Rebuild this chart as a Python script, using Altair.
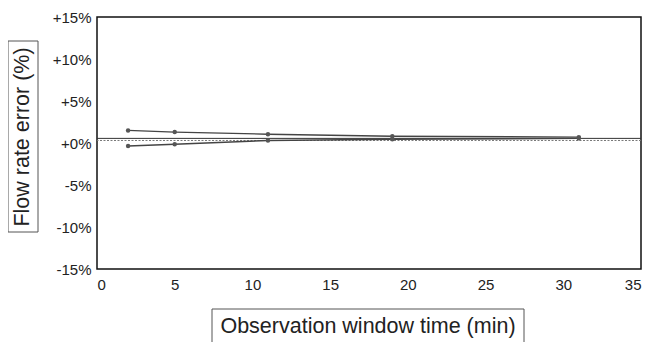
import altair as alt
import pandas as pd

window_min = [2, 5, 11, 19, 31]
upper_err = [1.5, 1.3, 1.05, 0.8, 0.7]
lower_err = [-0.35, -0.15, 0.3, 0.45, 0.55]
ref_solid = [0.55]
ref_dotted = [0.3]
x_ticks = [0, 5, 10, 15, 20, 25, 30, 35]
y_ticks = [-15, -10, -5, 0, 5, 10, 15]

rows = []
for s, vals in (("upper", upper_err), ("lower", lower_err)):
    for t, v in zip(window_min, vals):
        rows.append({"t": t, "err": v, "series": s})
df = pd.DataFrame(rows)

W, H = 544, 252
FONT = "Liberation Sans"

xs = alt.X("t:Q", scale=alt.Scale(domain=[0, 35], nice=False),
           axis=alt.Axis(values=x_ticks, title=None, labelPadding=8))
ys = alt.Y("err:Q", scale=alt.Scale(domain=[-15, 15], nice=False),
           axis=alt.Axis(values=y_ticks, title=None, labelPadding=6,
                         labelExpr="datum.value > 0 ? '+' + datum.value + '%' : (datum.value == 0 ? '+0%' : datum.value + '%')"))

lines = alt.Chart(df).mark_line(color="#444", strokeWidth=1.4).encode(x=xs, y=ys, detail="series:N")
pts = alt.Chart(df).mark_circle(color="#555", size=20, opacity=1).encode(x="t:Q", y="err:Q")

solid = alt.Chart(pd.DataFrame({"v": ref_solid})).mark_rule(color="#333", strokeWidth=1).encode(y="v:Q")
dotted = alt.Chart(pd.DataFrame({"v": ref_dotted})).mark_rule(color="#777", strokeWidth=1, strokeDash=[2, 1.5]).encode(y="v:Q")

box_y = alt.Chart(pd.DataFrame({"a": [0]})).mark_rect(fill="transparent", stroke="#555", strokeWidth=1).encode(
    x=alt.value(-89), x2=alt.value(-59), y=alt.value(24), y2=alt.value(215))
txt_y = alt.Chart(pd.DataFrame({"a": [0]})).mark_text(text="Flow rate error (%)", angle=270, fontSize=21.5, font=FONT,
                                                     color="#222", baseline="middle", align="center").encode(
    x=alt.value(-74), y=alt.value(120))
box_x = alt.Chart(pd.DataFrame({"a": [0]})).mark_rect(fill="transparent", stroke="#555", strokeWidth=1).encode(
    x=alt.value(115), x2=alt.value(427), y=alt.value(292), y2=alt.value(340))
txt_x = alt.Chart(pd.DataFrame({"a": [0]})).mark_text(text="Observation window time (min)", fontSize=21.5, font=FONT,
                                                     color="#222", baseline="middle", align="center").encode(
    x=alt.value(271), y=alt.value(310))

chart = alt.layer(dotted, solid, lines, pts, box_y, txt_y, box_x, txt_x).properties(
    width=W, height=H,
    autosize=alt.AutoSizeParams(type="none"),
    padding={"left": 89, "top": 9, "right": 5, "bottom": 73},
).configure_view(stroke="#111", strokeWidth=1.5).configure_axis(
    domain=False, ticks=False, grid=False, labelFont=FONT, labelFontSize=15, labelColor="#222"
)

chart.save("out.html", embed_options={"renderer": "svg", "actions": False})
